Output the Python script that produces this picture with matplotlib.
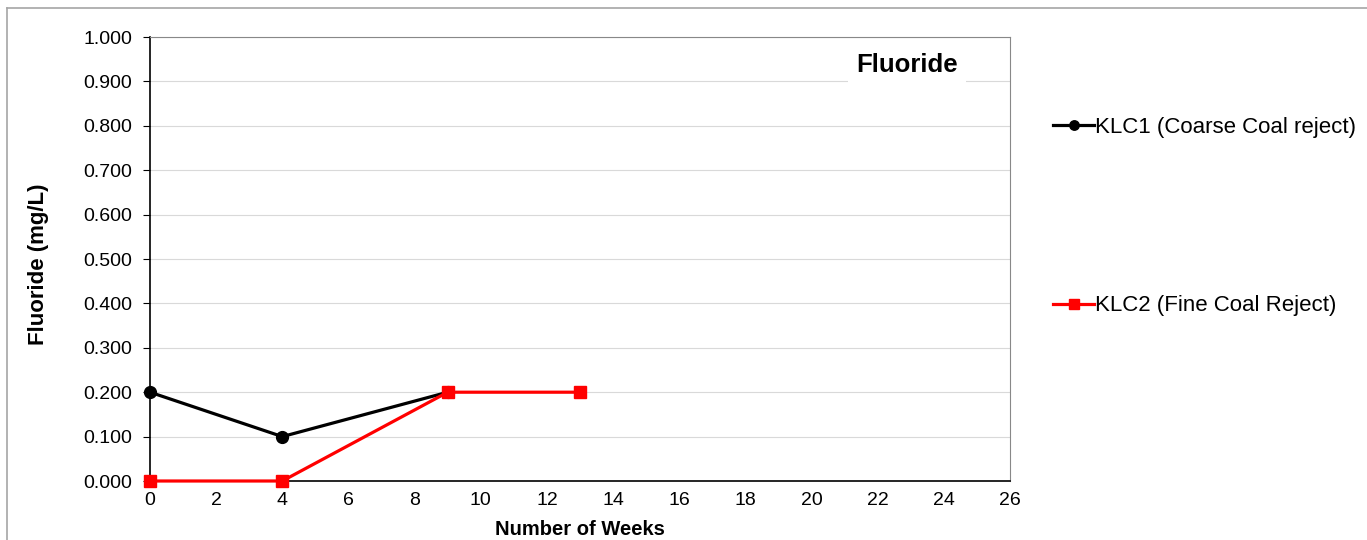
import matplotlib
matplotlib.use("Agg")
import matplotlib.pyplot as plt
from matplotlib.lines import Line2D

weeks_klc1 = [0, 4, 9]
fluoride_klc1 = [0.2, 0.1, 0.2]
weeks_klc2 = [0, 4, 9, 13]
fluoride_klc2 = [0.0, 0.0, 0.2, 0.2]
label_klc1 = "KLC1 (Coarse Coal reject)"
label_klc2 = "KLC2 (Fine Coal Reject)"
x_ticks = list(range(0, 27, 2))
y_ticks = [i / 10 for i in range(11)]

plt.rcParams['font.family'] = ['Liberation Sans', 'DejaVu Sans']

W, H = 1367, 540
fig = plt.figure(figsize=(W / 100, H / 100), dpi=100)
# outer frame: only left and top edges visible
fig.lines.append(Line2D([6.5 / W, 6.5 / W], [0, 1 - 8 / H], transform=fig.transFigure, color='#a6a6a6', lw=1.2))
fig.lines.append(Line2D([6.5 / W, 1], [1 - 8 / H, 1 - 8 / H], transform=fig.transFigure, color='#a6a6a6', lw=1.2))

ax = fig.add_axes([150 / W, 1 - 481 / H, 860 / W, 444 / H])

ax.plot(weeks_klc1, fluoride_klc1, color='black', lw=2.3, marker='o', ms=8.5,
        label=label_klc1, zorder=3, clip_on=False)
ax.plot(weeks_klc2, fluoride_klc2, color='#ff0000', lw=2.3, marker='s', ms=8.5,
        label=label_klc2, zorder=4, clip_on=False)

ax.set_xlim(0, 26)
ax.set_ylim(0, 1.0)
ax.set_xticks(x_ticks)
ax.set_yticks(y_ticks)
ax.set_yticklabels([f"{v:.3f}" for v in y_ticks])
ax.tick_params(axis='both', labelsize=14, direction='out', length=5, colors='black')
ax.tick_params(axis='x', length=0, pad=8)
ax.tick_params(axis='y', pad=8)
ax.grid(axis='y', color='#d9d9d9', lw=0.8)
ax.set_axisbelow(True)
for s in ['top', 'right']:
    ax.spines[s].set_color('#888888')
for s in ['left', 'bottom']:
    ax.spines[s].set_color('black')
    ax.spines[s].set_linewidth(1.2)

ax.set_xlabel("Number of Weeks", fontsize=14.5, fontweight='bold')
ax.xaxis.set_label_coords(0.5, -(520 - 481) / 444)
ax.set_ylabel("Fluoride (mg/L)", fontsize=16, fontweight='bold')
ax.yaxis.set_label_coords(-(150 - 49) / 860, (481 - 264) / 444)

ax.text((907 - 150) / 860, (481 - 65) / 444, "Fluoride", transform=ax.transAxes, fontsize=18.5,
        fontweight='bold', ha='center', va='center',
        bbox=dict(facecolor='white', edgecolor='none', pad=6))

h, l = ax.get_legend_handles_labels()
for handle, lab, yc in [(h[0], l[0], 127), (h[1], l[1], 306)]:
    fig.legend([handle], [lab], loc='center left', bbox_to_anchor=(1033 / W, 1 - yc / H),
               frameon=False, fontsize=16, handlelength=1.85, handletextpad=0.05,
               markerscale=0.8)

fig.savefig("out.png", dpi=100)
